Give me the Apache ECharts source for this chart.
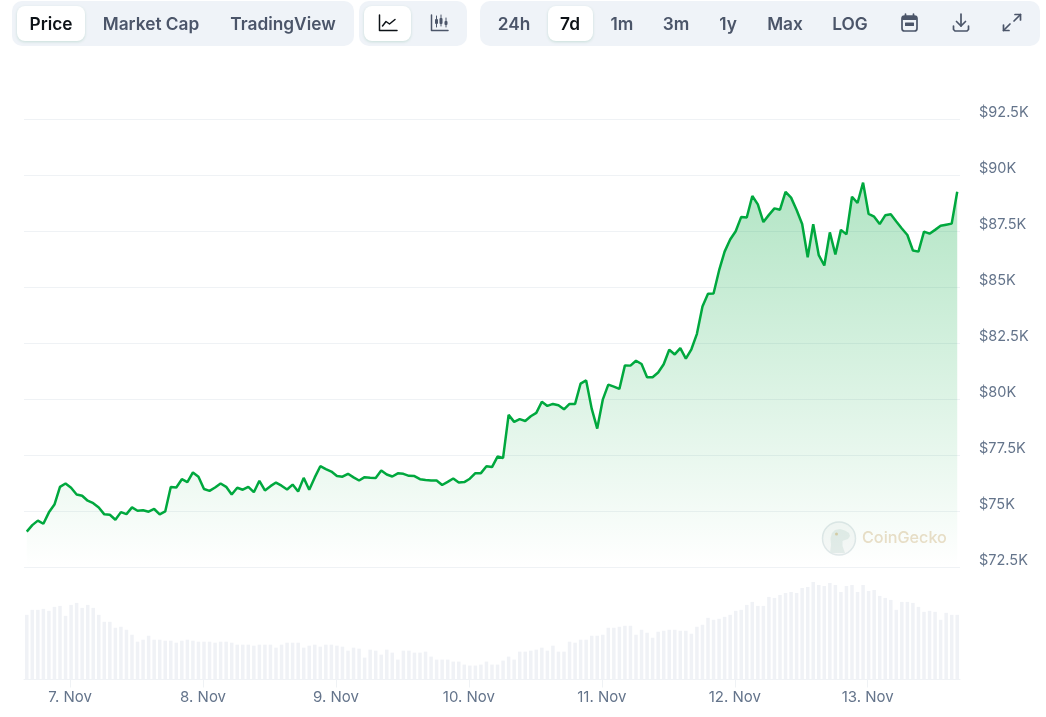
<!DOCTYPE html>
<html>
<head>
<meta charset="utf-8">
<title>Bitcoin price chart</title>
<script src="https://cdn.jsdelivr.net/npm/echarts@6/dist/echarts.min.js"></script>
<style>
  html, body { margin: 0; padding: 0; background: #fff; }
  #chart { width: 1046px; height: 717px; }
</style>
</head>
<body>
<div id="chart"></div>
<script>
// hourly samples, first one 6 Nov 16:10 UTC
const HOUR = 3600000
const startTime = Date.UTC(2024, 10, 6, 16, 10)
const dayTicks = [7, 8, 9, 10, 11, 12, 13]

const prices = [
  74080, 74370, 74570, 74430, 74940, 75290, 76080, 76230, 76040, 75740, 75680, 75460, 75350, 75160, 74850, 74830,
  74610, 74950, 74860, 75160, 75010, 75030, 74970, 75090, 74850, 74980, 76070, 76050, 76420, 76290, 76720, 76530,
  75980, 75900, 76050, 76230, 76080, 75740, 76040, 75950, 76080, 75840, 76350, 75920, 76110, 76270, 76130, 75960,
  76180, 75870, 76480, 75950, 76500, 77000, 76870, 76760, 76560, 76530, 76660, 76500, 76360, 76510, 76480, 76470,
  76810, 76630, 76540, 76680, 76660, 76570, 76560, 76420, 76380, 76360, 76360, 76160, 76300, 76450, 76270, 76290,
  76440, 76690, 76690, 77000, 76960, 77430, 77370, 79290, 78980, 79100, 79020, 79230, 79380, 79880, 79690, 79780,
  79720, 79540, 79780, 79780, 80690, 80830, 79570, 78680, 79970, 80640, 80550, 80450, 81500, 81490, 81710, 81560,
  80970, 80970, 81180, 81550, 82200, 81990, 82270, 81800, 82220, 82910, 84130, 84700, 84710, 85740, 86580, 87120,
  87490, 88130, 88100, 89060, 88690, 87900, 88220, 88510, 88450, 89250, 88990, 88440, 87810, 86330, 87800, 86420,
  85960, 87440, 86450, 87550, 87350, 89030, 88750, 89660, 88260, 88140, 87810, 88200, 88250, 87920, 87610, 87320,
  86630, 86580, 87470, 87380, 87550, 87730, 87780, 87830, 89250
]

// relative volume
const volumes = [
  65, 70, 70, 71, 69, 73, 74, 64, 75, 77, 72, 75, 72, 65, 58, 58,
  52, 53, 50, 45, 38, 40, 44, 40, 40, 39, 39, 37, 39, 40, 39, 38,
  38, 38, 37, 38, 38, 37, 35, 35, 35, 34, 35, 35, 35, 32, 35, 37,
  37, 37, 32, 34, 35, 33, 35, 35, 34, 33, 29, 32, 31, 22, 30, 29,
  25, 30, 27, 20, 29, 29, 27, 27, 28, 23, 20, 20, 20, 18, 18, 15,
  14, 14, 15, 18, 15, 15, 19, 23, 20, 28, 28, 29, 30, 32, 29, 34,
  28, 28, 38, 37, 40, 40, 44, 44, 45, 52, 52, 53, 54, 54, 45, 50,
  47, 42, 48, 49, 50, 50, 49, 49, 46, 53, 55, 62, 60, 61, 63, 65,
  69, 70, 75, 78, 74, 74, 83, 82, 85, 87, 88, 87, 92, 93, 98, 95,
  94, 97, 95, 88, 94, 95, 88, 95, 89, 90, 84, 82, 80, 70, 78, 78,
  77, 73, 68, 69, 68, 60, 67, 65, 65
]

const modeTabs = ['Price', 'Market Cap', 'TradingView']
const rangeTabs = ['24h', '7d', '1m', '3m', '1y', 'Max', 'LOG']

const FONT = 'Inter, "Noto Sans", sans-serif'
const PANEL = '#eff3f8'
const DARK = '#0d1217'
const SLATE = '#4b5569'
const GRID = '#eff2f5'

const times = prices.map((_, i) => startTime + i * HOUR)
const dayValues = dayTicks.map(d => Date.UTC(2024, 10, d))

function panel(x, y, w, h, r, fill, shadow) {
  const el = { type: 'rect', silent: true, shape: { x, y, width: w, height: h, r }, style: { fill } }
  if (shadow) {
    el.style.shadowColor = 'rgba(0, 120, 60, 0.16)'
    el.style.shadowBlur = 3
    el.style.shadowOffsetY = 1
  }
  return el
}

function label(text, cx, color) {
  return {
    type: 'text', silent: true, x: cx, y: 25,
    style: { text, fill: color, font: '600 17.3px ' + FONT, align: 'center', verticalAlign: 'middle' }
  }
}

function icon(points, color, width) {
  return {
    type: 'polyline', silent: true, shape: { points },
    style: { stroke: color, lineWidth: width || 1.5, fill: 'none', lineJoin: 'round', lineCap: 'round' }
  }
}

const modeCenters = [51, 151, 283]
const rangeCenters = [514, 570, 622, 676, 728, 785, 850]

const toolbar = [
  panel(12, 1, 342, 45, 10, PANEL),
  panel(359, 1, 108, 45, 10, PANEL),
  panel(480, 1, 560, 45, 10, PANEL),
  panel(17, 6, 68, 35, 8, '#fff', true),
  panel(364, 6, 47, 35, 8, '#fff', true),
  panel(548, 6, 45, 35, 8, '#fff', true),
  ...modeTabs.map((t, i) => label(t, modeCenters[i], i === 0 ? DARK : SLATE)),
  ...rangeTabs.map((t, i) => label(t, rangeCenters[i], t === '7d' ? DARK : SLATE)),
  // line icon
  icon([[379.5, 15], [379.5, 30.5], [397, 30.5]], DARK),
  icon([[382.5, 26], [386, 21.5], [389.5, 24], [395, 19.5]], DARK),
  // candles icon
  icon([[431.5, 15], [431.5, 30.5], [448, 30.5]], SLATE),
  icon([[436.5, 16], [436.5, 27]], SLATE, 1),
  icon([[441, 15], [441, 26]], SLATE, 1),
  icon([[446, 18], [446, 27]], SLATE, 1),
  panel(435, 19, 3, 5, 1, SLATE),
  panel(439.5, 18, 3, 6, 1, SLATE),
  panel(444.5, 21, 3, 4, 1, SLATE),
  // calendar
  {
    type: 'rect', silent: true, shape: { x: 902, y: 16, width: 15, height: 15, r: 2.5 },
    style: { fill: 'none', stroke: SLATE, lineWidth: 1.7 }
  },
  panel(902, 16, 15, 4, 1, SLATE),
  panel(905, 22.5, 9, 3.5, 0.5, SLATE),
  icon([[905.5, 14], [905.5, 16.5]], SLATE, 1.7),
  icon([[913.5, 14], [913.5, 16.5]], SLATE, 1.7),
  // download
  icon([[961, 14], [961, 26]], SLATE, 1.7),
  icon([[956.5, 21.5], [961, 26], [965.5, 21.5]], SLATE, 1.7),
  icon([[953.5, 26], [953.5, 29.5], [955, 31], [967, 31], [968.5, 29.5], [968.5, 26]], SLATE, 1.7),
  // expand
  icon([[1015, 14.5], [1020.5, 14.5], [1020.5, 20]], SLATE, 1.7),
  icon([[1020.5, 14.5], [1014, 21]], SLATE, 1.7),
  icon([[1003.5, 25], [1003.5, 30.5], [1009, 30.5]], SLATE, 1.7),
  icon([[1003.5, 30.5], [1010, 24]], SLATE, 1.7)
]

const geckoShape = [
  [830, 553], [831, 545], [830.5, 538], [832, 533], [835, 530], [840, 529], [845, 530.5], [849, 533],
  [850, 536], [848, 539], [845, 540], [842.5, 541], [842.5, 546], [845, 553]
]

const watermark = [
  { type: 'circle', silent: true, shape: { cx: 839, cy: 538.5, r: 16.5 }, style: { fill: 'rgba(240,243,243,0.55)', stroke: 'rgba(222,230,232,0.9)', lineWidth: 1.5 } },
  { type: 'polygon', silent: true, shape: { points: geckoShape }, style: { fill: 'rgba(222,232,230,0.75)' } },
  { type: 'circle', silent: true, shape: { cx: 836.5, cy: 534, r: 1.5 }, style: { fill: 'rgba(214,196,150,0.8)' } },
  {
    type: 'text', silent: true, x: 862, y: 538,
    style: { text: 'CoinGecko', fill: '#ecdfc9', font: '500 16.2px ' + FONT, verticalAlign: 'middle' }
  }
]

const chart = echarts.init(document.getElementById('chart'), null, { renderer: 'canvas' })

const xMin = startTime - HOUR / 2
const xMax = startTime + 168.5 * HOUR

chart.setOption({
  animation: false,
  backgroundColor: '#fff',
  textStyle: { fontFamily: FONT },
  grid: [
    { left: 24, right: 86, top: 119, height: 448 },
    { left: 24, right: 86, top: 582, height: 97.5 }
  ],
  xAxis: [
    {
      type: 'value', gridIndex: 0, min: xMin, max: xMax,
      axisLine: { show: false }, axisTick: { show: false }, axisLabel: { show: false }, splitLine: { show: false }
    },
    {
      type: 'value', gridIndex: 1, min: xMin, max: xMax,
      axisLine: { onZero: false, lineStyle: { color: GRID, width: 1 } },
      axisTick: { show: true, length: 8, lineStyle: { color: GRID }, customValues: dayValues },
      axisLabel: {
        color: '#64748b', fontSize: 15, fontFamily: FONT, margin: 10,
        customValues: dayValues,
        formatter: v => new Date(v).getUTCDate() + '. Nov'
      },
      splitLine: { show: false }
    }
  ],
  yAxis: [
    {
      type: 'value', gridIndex: 0, position: 'right', min: 72500, max: 92500, interval: 2500,
      axisLine: { show: false }, axisTick: { show: false },
      axisLabel: {
        color: '#64748b', fontSize: 14.5, fontFamily: FONT, margin: 19, align: 'left', verticalAlign: 'bottom',
        lineHeight: 12,
        formatter: v => '$' + v / 1000 + 'K'
      },
      splitLine: { lineStyle: { color: GRID, width: 1 } }
    },
    {
      type: 'value', gridIndex: 1, min: 0, max: 98,
      axisLine: { show: false }, axisTick: { show: false }, axisLabel: { show: false }, splitLine: { show: false }
    }
  ],
  series: [
    {
      name: 'Price', type: 'line', xAxisIndex: 0, yAxisIndex: 0,
      data: times.map((t, i) => [t, prices[i]]),
      showSymbol: false, smooth: false,
      lineStyle: { color: '#00a83e', width: 2.5 },
      itemStyle: { color: '#00a83e' },
      areaStyle: {
        opacity: 1,
        color: new echarts.graphic.LinearGradient(0, 0, 0, 1, [
          { offset: 0, color: 'rgba(0,168,62,0.30)' },
          { offset: 1, color: 'rgba(0,168,62,0)' }
        ])
      },
      z: 3
    },
    {
      name: 'Volume', type: 'bar', xAxisIndex: 1, yAxisIndex: 1,
      data: times.map((t, i) => [t, volumes[i]]),
      barWidth: 3.5,
      itemStyle: { color: '#f0f2f6' }
    }
  ],
  graphic: { elements: [...toolbar, ...watermark] }
})
</script>
</body>
</html>
